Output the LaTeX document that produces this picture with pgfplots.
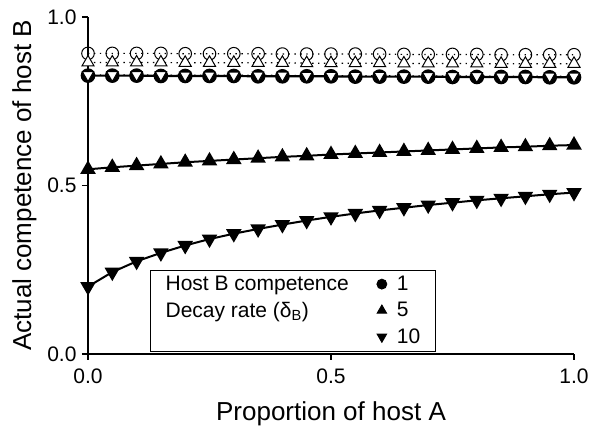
\documentclass[border=0pt]{standalone}
\usepackage{fontspec}
\setmainfont{Liberation Sans}
\usepackage{pgfplots}
\pgfplotsset{compat=1.18}
\usepackage{pgfplotstable}

\pgfplotstableread{
x     oc     ou     od     fc     fu     fd
0.00  0.892  0.865  0.828  0.826  0.548  0.200
0.05  0.892  0.865  0.828  0.826  0.554  0.243
0.10  0.892  0.865  0.828  0.826  0.559  0.275
0.15  0.892  0.865  0.828  0.825  0.564  0.300
0.20  0.891  0.864  0.827  0.825  0.569  0.322
0.25  0.891  0.864  0.827  0.825  0.573  0.341
0.30  0.891  0.864  0.827  0.825  0.577  0.357
0.35  0.891  0.864  0.827  0.824  0.581  0.371
0.40  0.890  0.864  0.827  0.824  0.585  0.384
0.45  0.890  0.863  0.826  0.824  0.588  0.396
0.50  0.890  0.863  0.826  0.824  0.592  0.407
0.55  0.890  0.863  0.826  0.823  0.595  0.417
0.60  0.890  0.863  0.826  0.823  0.598  0.426
0.65  0.889  0.862  0.825  0.823  0.601  0.434
0.70  0.889  0.862  0.825  0.823  0.604  0.442
0.75  0.889  0.862  0.825  0.822  0.607  0.449
0.80  0.889  0.862  0.825  0.822  0.610  0.456
0.85  0.888  0.861  0.824  0.822  0.613  0.462
0.90  0.888  0.861  0.824  0.822  0.615  0.468
0.95  0.888  0.861  0.824  0.821  0.618  0.474
1.00  0.888  0.861  0.824  0.821  0.620  0.479
}\datatable

\pgfplotstableread{
x     y
0.00  0.200
0.00  0.828
}\vline

\begin{document}
\begin{tikzpicture}
\begin{axis}[
  name=ax,
  scale only axis,
  width=486pt, height=337pt,
  xmin=0, xmax=1, ymin=0, ymax=1,
  axis lines=left,
  axis line style={-, line width=1.3pt},
  xtick={0,0.5,1}, ytick={0,0.5,1},
  tick align=outside,
  major tick length=6pt,
  tick style={black, line width=1.2pt},
  /pgf/number format/assume math mode=true,
  /pgf/number format/fixed, /pgf/number format/fixed zerofill,
  /pgf/number format/precision=1,
  tick label style={font=\fontsize{21}{24}\selectfont},
  xticklabel style={yshift=-5pt},
  yticklabel style={xshift=-2pt},
  xlabel={Proportion of host A},
  ylabel={Actual competence of host B},
  label style={font=\fontsize{26}{30}\selectfont},
  xlabel style={yshift=-11pt},
  ylabel style={yshift=4pt},
  clip=false,
  legend columns=2,
  legend cell align=left,
  legend style={draw=black, line width=0.8pt, at={(0.128,0.25)}, anchor=north west,
    font=\fontsize{21}{24}\selectfont, inner xsep=13pt, inner ysep=4pt,
    /tikz/row sep=6pt,
    /tikz/every even column/.append style={column sep=26pt}},
]
% open series (dotted)
\addplot[black, line width=1.2pt, dash pattern=on 1.4pt off 4.5pt, mark=o, mark size=6.3pt,
  mark options={solid, fill=white, line width=1pt}, forget plot] table[x=x, y=oc] {\datatable};
\addplot[black, line width=1.2pt, dash pattern=on 1.4pt off 4.5pt, mark=triangle*, mark size=7pt,
  mark options={solid, fill=white, line width=1pt}, forget plot] table[x=x, y=ou] {\datatable};
% filled series (solid)
\addplot[black, line width=2.2pt, forget plot] table[x=x, y=y] {\vline};
\addplot[black, line width=2.2pt, mark=*, mark size=6.2pt, mark options={solid, fill=black}, forget plot]
  table[x=x, y=fc] {\datatable};
\addplot[black, line width=1.2pt, dash pattern=on 1.4pt off 4.5pt, mark=triangle*, mark size=6.5pt,
  mark options={solid, fill=white, line width=1pt, rotate=180}, forget plot] table[x=x, y=od] {\datatable};
\addplot[black, line width=2pt, mark=triangle*, mark size=7pt, mark options={solid, fill=black}, forget plot]
  table[x=x, y=fu] {\datatable};
\addplot[black, line width=2pt, mark=triangle*, mark size=7pt, mark options={solid, fill=black, rotate=180}, forget plot]
  table[x=x, y=fd] {\datatable};
% legend
\addlegendimage{empty legend}
\addlegendentry{Host B competence}
\addlegendimage{only marks, mark=*, mark size=5pt, black}
\addlegendentry{\hspace{8pt}1}
\addlegendimage{empty legend}
\addlegendentry{Decay rate (δ\textsubscript{B})}
\addlegendimage{only marks, mark=triangle*, mark size=5.5pt, black}
\addlegendentry{\hspace{8pt}5}
\addlegendimage{empty legend}
\addlegendentry{}
\addlegendimage{only marks, mark=triangle*, mark size=5.5pt, black, mark options={rotate=180}}
\addlegendentry{\hspace{8pt}10\hspace{3pt}}
\end{axis}
\pgfresetboundingbox
\path[use as bounding box] ([shift={(-88pt,-73pt)}]ax.south west) rectangle ([shift={(15pt,17pt)}]ax.north east);
\end{tikzpicture}
\end{document}
